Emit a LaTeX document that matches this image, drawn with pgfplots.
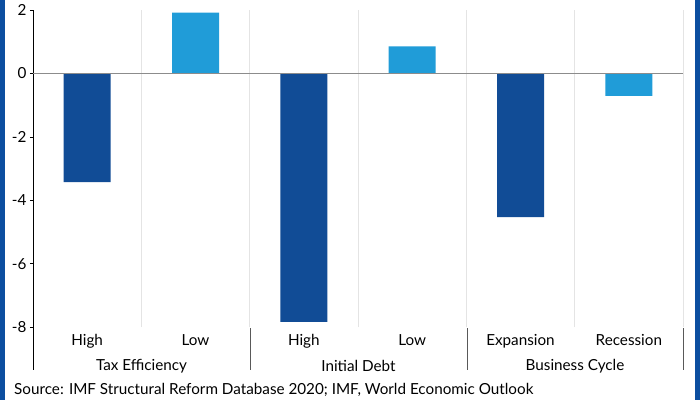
\documentclass[border=0pt]{standalone}
\usepackage{pgfplots}
\pgfplotsset{compat=1.18}
\usepackage{fontspec}
\setmainfont{Lato}
\definecolor{darkbar}{RGB}{17,76,150}
\definecolor{lightbar}{RGB}{32,156,216}
\definecolor{frameblue}{RGB}{12,78,160}
\definecolor{gridgray}{RGB}{228,228,228}
\begin{document}
\begin{tikzpicture}[x=1bp,y=1bp]
\useasboundingbox (0,0) rectangle (700,400);
\fill[white] (0,0) rectangle (700,400);
\fill[frameblue] (0,0) rectangle (4.5,400);
\fill[frameblue] (695,0) rectangle (700,400);
\begin{axis}[
  at={(33bp,73bp)}, anchor=south west,
  scale only axis, width=650bp, height=317bp,
  xmin=-0.5, xmax=5.5, ymin=-8, ymax=2,
  axis lines*=left,
  x axis line style={draw=none},
  y axis line style={black, line width=0.6pt},
  xtick={0,1,2,3,4,5},
  xticklabels={High,Low,High,Low,Expansion,Recession},
  major x tick style={draw=none},
  minor xtick={0.5,1.5,2.5,3.5,4.5,5.5},
  minor x tick style={draw=none},
  minor x grid style={gridgray, line width=0.8pt},
  xminorgrids=true,
  ytick={-8,-6,-4,-2,0,2},
  yticklabels={-8,-6,-4,-2,0,2},
  major y tick style={black, line width=0.5pt},
  tick align=outside,
  major tick length=3bp,
  font=\fontsize{15.3}{17}\selectfont,
  xticklabel style={yshift=-1bp},
  yticklabel style={xshift=0bp},
  ybar, bar width=47bp,
  clip=false,
]
\addplot[fill=darkbar, draw=none, bar shift=0pt] coordinates {(0,-3.43) (2,-7.84) (4,-4.53)};
\addplot[fill=lightbar, draw=none, bar shift=0pt] coordinates {(1,1.92) (3,0.85) (5,-0.71)};
\draw[gray!90, line width=1pt] (axis cs:-0.5,0) -- (axis cs:5.5,0);
\end{axis}
\draw[black, line width=0.6pt] (33,73) -- (33,30);
\draw[gray!70!black, line width=0.6pt] (250,72) -- (250,30);
\draw[gray!70!black, line width=0.6pt] (467,72) -- (467,30);
\draw[gray!70!black, line width=0.6pt] (683,72) -- (683,30);
\node[font=\fontsize{15.3}{17}\selectfont] at (141.5,34) {Tax Efficiency};
\node[font=\fontsize{15.3}{17}\selectfont] at (358.5,34) {Initial Debt};
\node[font=\fontsize{15.3}{17}\selectfont] at (575,34) {Business Cycle};
\node[font=\fontsize{15.3}{17}\selectfont, anchor=west, inner sep=0pt] at (14,10) {Source: IMF Structural Reform Database 2020; IMF, World Economic Outlook};
\end{tikzpicture}
\end{document}
